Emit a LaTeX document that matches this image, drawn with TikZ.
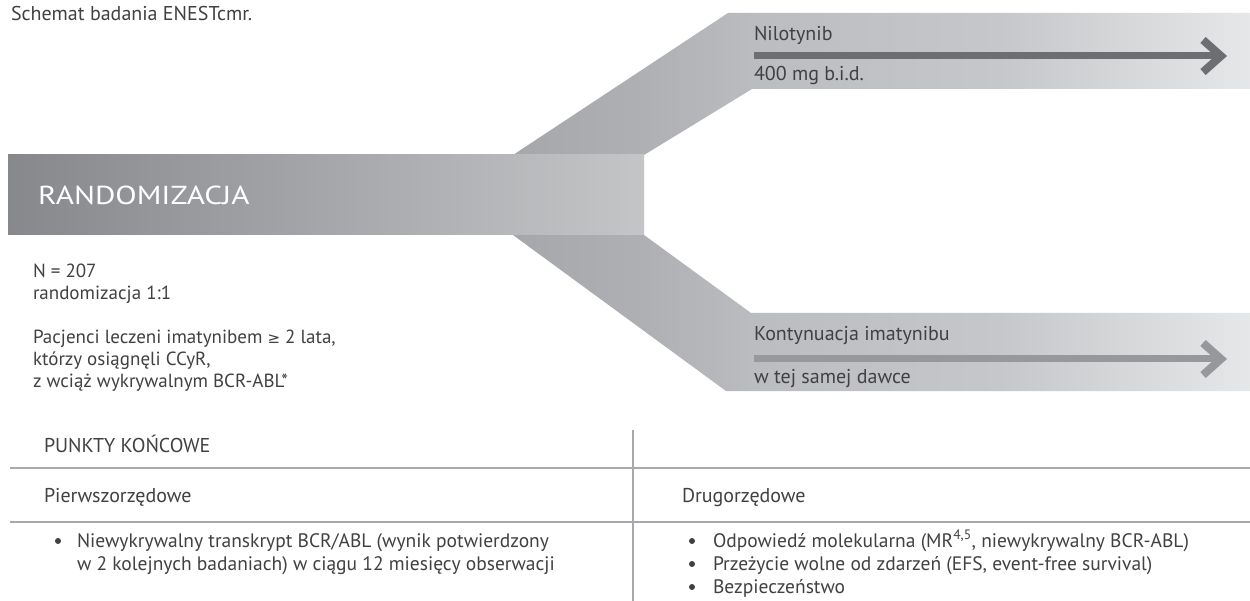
\documentclass[tikz,border=0pt]{standalone}
\usepackage{fontspec}
\setmainfont{PT Sans}
\newfontfamily\symf{DejaVu Sans}
\definecolor{txt}{HTML}{414042}
\definecolor{bA}{HTML}{A6A7AA}
\definecolor{bB}{HTML}{AFB0B3}
\definecolor{bC}{HTML}{BCBDC0}
\definecolor{bD}{HTML}{C6C7CA}
\definecolor{bE}{HTML}{E6E7E8}
\definecolor{randL}{HTML}{87888C}
\definecolor{randR}{HTML}{C4C5C7}
\definecolor{arrDark}{HTML}{6D6E71}
\definecolor{arrLight}{HTML}{97989B}
\definecolor{rule}{HTML}{A7A9AC}
\pgfdeclarehorizontalshading{branchshade}{100bp}{color(0bp)=(bA); color(25bp)=(bA); color(34bp)=(bB); color(42bp)=(bC); color(58bp)=(bD); color(75bp)=(bE); color(100bp)=(bE)}
\tikzset{
  lbl/.style={inner sep=0pt, outer sep=0pt, text=txt, font=\fontsize{20}{23}\selectfont, anchor=base west},
  desc/.style={lbl, font=\fontsize{19}{22}\selectfont},
  item/.style={lbl, font=\fontsize{19.5}{23}\selectfont},
  shaft/.style={line width=7pt},
  chev/.style={line width=8pt, line join=miter},
  tline/.style={draw=rule, line width=2pt},
  vline/.style={draw=rule, line width=1.5pt},
  dot/.style={circle, fill=txt, inner sep=0pt, minimum size=6pt}
}
\begin{document}
\begin{tikzpicture}[x=1pt,y=-1pt]
\useasboundingbox (0,0) rectangle (1250,601);
\fill[white] (0,0) rectangle (1250,601);

% title
\node[lbl] (title) at (11,21) {Schemat badania ENESTcmr.};

% branches
\shade[shading=branchshade]
  (513,155) -- (728,13) -- (1250,13) -- (1250,89) -- (752,89) -- (644,155) -- cycle
  (513,235) -- (644,235) -- (751,313) -- (1250,313) -- (1250,391) -- (726,391) -- cycle;

% randomisation band
\shade[left color=randL, right color=randR] (8,155) rectangle (644,235);
\node[lbl, text=white, font=\fontsize{26}{26}\selectfont] (rand) at (38,205) {\scalebox{1.2}[1]{RANDOMIZACJA}};

% upper arm
\node[lbl] (nilo) at (754,40.5) {Nilotynib};
\node[lbl] (nilodose) at (754,81) {400 mg b.i.d.};
\coordinate (u1) at (754,56);
\coordinate (u2) at (1220,56);
\coordinate (ut) at (1221,56);
\draw[shaft, arrDark] (u1) -- (u2);
\draw[chev, arrDark] ([shift={(-18,-16)}]ut) -- (ut) -- ([shift={(-18,16)}]ut);

% lower arm
\node[lbl] (kont) at (754,340.5) {Kontynuacja imatynibu};
\node[lbl] (kontdose) at (754,384) {w tej samej dawce};
\coordinate (l1) at (754,359);
\coordinate (l2) at (1220,359);
\coordinate (lt) at (1221,359);
\draw[shaft, arrLight] (l1) -- (l2);
\draw[chev, arrLight] ([shift={(-18,-16)}]lt) -- (lt) -- ([shift={(-18,16)}]lt);

% left description
\node[desc] (n) at (33,278) {N = 207};
\node[desc] (r) at (33,300) {randomizacja 1:1};
\node[desc] (p1) at (33,344) {Pacjenci leczeni imatynibem {\symf\fontsize{15}{15}\selectfont ≥} 2 lata,};
\node[desc] (p2) at (33,366) {którzy osiągnęli CCyR,};
\node[desc] (p3) at (33,388) {z wciąż wykrywalnym BCR-ABL*};

% table
\coordinate (vt) at (633,430);
\coordinate (vb) at (633,601);
\draw[vline] (vt) -- (vb);
\coordinate (h1a) at (10,468);
\coordinate (h1b) at (1250,468);
\coordinate (h2a) at (10,522);
\coordinate (h2b) at (1250,522);
\draw[tline] (h1a) -- (h1b);
\draw[tline] (h2a) -- (h2b);
\node[lbl] (pk) at (44,452) {PUNKTY KOŃCOWE};
\node[lbl] (pier) at (44,502) {Pierwszorzędowe};
\node[lbl] (drug) at (682,502) {Drugorzędowe};

\node[dot] (b1) at (58,541) {};
\node[item] (t1) at (77,547.5) {Niewykrywalny transkrypt BCR/ABL (wynik potwierdzony};
\node[item] (t1b) at (77,570.5) {w 2 kolejnych badaniach) w ciągu 12 miesięcy obserwacji};

\node[dot] (b2) at (692,541) {};
\node[dot] (b3) at (692,564) {};
\node[dot] (b4) at (692,587) {};
\node[item] (t2) at (713,547.5) {Odpowiedź molekularna (MR\textsuperscript{4,5}, niewykrywalny BCR-ABL)};
\node[item] (t3) at (713,570.5) {Przeżycie wolne od zdarzeń (EFS, event-free survival)};
\node[item] (t4) at (713,593.5) {Bezpieczeństwo};
\end{tikzpicture}
\end{document}
